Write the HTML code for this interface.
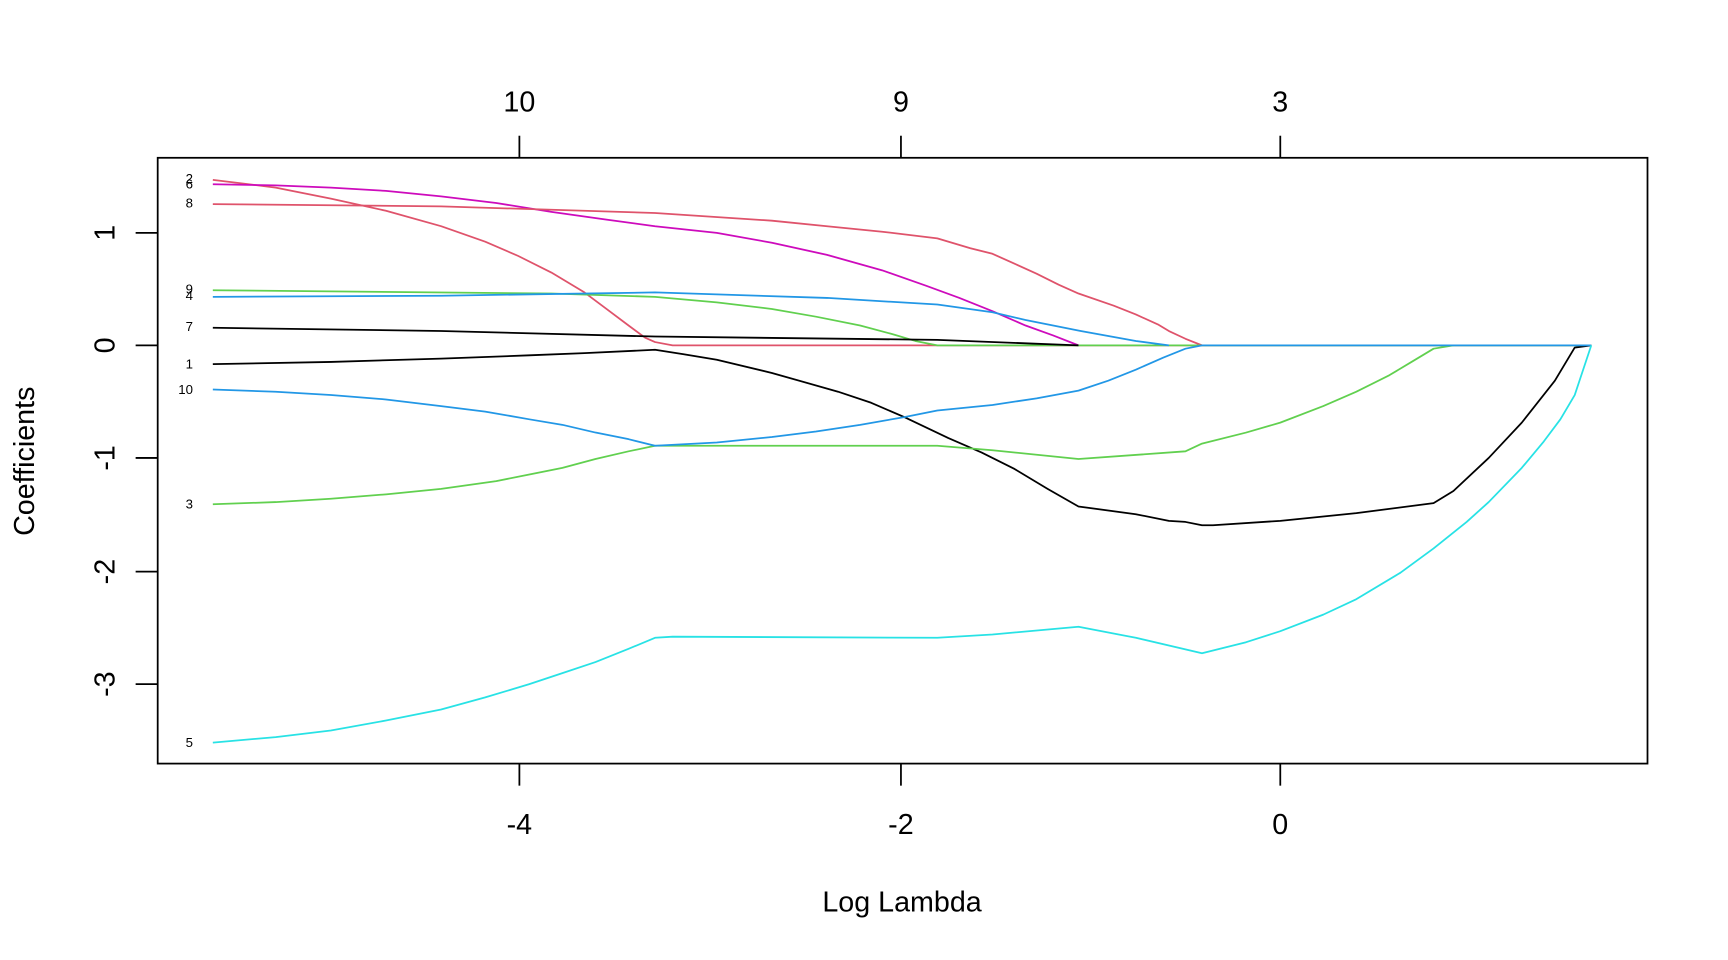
<!DOCTYPE html>
<html><head><style>html,body{margin:0;padding:0;background:#fff}svg{display:block}</style></head>
<body>
<svg width="1728" height="960" viewBox="0 0 1567 870" preserveAspectRatio="none" xmlns="http://www.w3.org/2000/svg" font-family="Liberation Sans, Arial, sans-serif">
<rect width="1567" height="870" fill="#fff"/>
<rect x="143" y="143" width="1351" height="549" fill="none" stroke="#000" stroke-width="1.6"/>
<g stroke="#000" stroke-width="1.6">
<line x1="471" y1="692" x2="471" y2="712"/><line x1="817" y1="692" x2="817" y2="712"/><line x1="1161" y1="692" x2="1161" y2="712"/>
<line x1="471" y1="143" x2="471" y2="123"/><line x1="817" y1="143" x2="817" y2="123"/><line x1="1161" y1="143" x2="1161" y2="123"/>
<line x1="143" y1="211" x2="123" y2="211"/><line x1="143" y1="313" x2="123" y2="313"/><line x1="143" y1="415" x2="123" y2="415"/><line x1="143" y1="518" x2="123" y2="518"/><line x1="143" y1="620" x2="123" y2="620"/>
</g>
<g font-size="26" text-anchor="middle" fill="#000">
<text x="471" y="756">-4</text><text x="817" y="756">-2</text><text x="1161" y="756">0</text>
<text x="471" y="101">10</text><text x="817" y="101">9</text><text x="1161" y="101">3</text>
<text transform="translate(104,211) rotate(-90)">1</text>
<text transform="translate(104,313) rotate(-90)">0</text>
<text transform="translate(104,415) rotate(-90)">-1</text>
<text transform="translate(104,518) rotate(-90)">-2</text>
<text transform="translate(104,620) rotate(-90)">-3</text>
<text transform="translate(31,418) rotate(-90)">Coefficients</text>
<text x="818" y="826">Log Lambda</text>
</g>
<g fill="none" stroke-width="1.6" stroke-linejoin="round">
<polyline stroke="#DF536B" points="193,163 250,170 300,180 350,191 400,205 440,219 470,232 500,247 530,265 550,280 570,295 585,306 594,310 610,313 1443,313"/>
<polyline stroke="#CD0BBC" points="193,167 250,168 300,170 350,173 400,178 450,184 500,192 550,199 594,205 650,211 700,220 750,231 800,245 840,259 870,270 900,282 930,295 955,304 978,313"/>
<polyline stroke="#DF536B" points="193,185 400,187 594,193 700,200 750,205 800,210 850,216 880,225 900,230 920,239 940,248 960,258 978,266 1010,277 1030,285 1050,294 1060,300 1075,307 1090,313"/>
<polyline stroke="#61D04F" points="193,263 500,266 594,269 650,274 700,280 740,287 780,295 810,303 830,309 850,313 1443,313"/>
<polyline stroke="#2297E6" points="193,269 400,268 594,265 750,270 850,276 900,283 930,290 980,300 1030,309 1060,313"/>
<polyline stroke="#000" points="193,297 400,300 594,305 850,308 978,313"/>
<polyline stroke="#000" points="193,330 300,328 400,325 480,322 530,320 594,317 620,321 650,326 700,338 760,355 790,365 820,378 860,397 890,410 920,425 950,443 978,459 1030,466 1060,472 1075,473 1090,476 1100,476 1161,472 1230,465 1300,456 1318,445 1350,415 1380,383 1410,345 1428,315 1443,313"/>
<polyline stroke="#61D04F" points="193,457 250,455 300,452 350,448 400,443 450,436 480,430 510,424 540,416 570,409 594,404 850,404 900,408 978,416 1075,409 1090,402 1130,392 1161,383 1200,368 1230,355 1260,340 1280,328 1300,316 1318,313"/>
<polyline stroke="#2297E6" points="193,353 250,355 300,358 350,362 400,368 440,373 480,380 510,385 540,392 570,398 594,404 650,401 700,396 740,391 780,385 820,378 850,372 900,367 940,361 978,354 1005,345 1030,335 1055,324 1075,316 1090,313 1443,313"/>
<polyline stroke="#28E2E5" points="193,673 250,668 300,662 350,653 400,643 440,632 480,620 510,610 540,600 570,588 594,578 610,577 850,578 900,575 978,568 1030,578 1090,592 1130,582 1161,572 1200,557 1230,543 1270,519 1300,497 1330,473 1350,455 1380,424 1400,400 1415,380 1428,358 1443,313"/>
</g>
<g font-size="12" text-anchor="end" fill="#000">
<text x="175" y="166">2</text><text x="175" y="171">6</text><text x="175" y="188">8</text>
<text x="175" y="266">9</text><text x="175" y="272">4</text><text x="175" y="300">7</text>
<text x="175" y="334">1</text><text x="175" y="357">10</text><text x="175" y="461">3</text><text x="175" y="677">5</text>
</g>
</svg>
</body></html>
